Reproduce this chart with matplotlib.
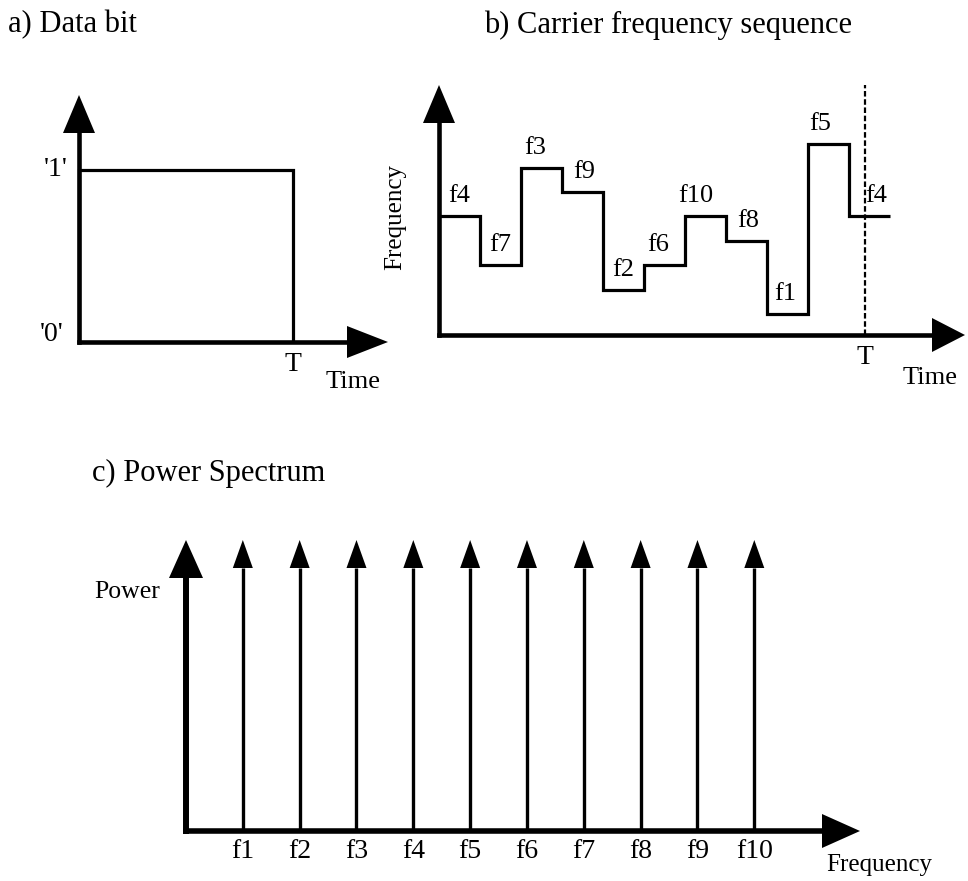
import matplotlib.pyplot as plt

# ---- data ----
# a) one data bit of length T
bit_edges = [0.0, 1.0]          # in units of T
bit_value = [1]                 # '1'
bit_ticks = ["'0'", "'1'"]

# b) carrier frequency sequence (one hop per time unit)
hop_labels = ['f4', 'f7', 'f3', 'f9', 'f2', 'f6', 'f10', 'f8', 'f1', 'f5', 'f4']
hop_levels = [4.76, 2.8, 6.68, 5.72, 1.8, 2.8, 4.76, 3.76, 0.84, 7.64, 4.76]
hop_edges = [0, 1, 2, 3, 4, 5, 6, 7, 8, 9, 10, 11]
T_hops = 10.39

# c) power spectrum, ten equal lines
spec_labels = ['f1', 'f2', 'f3', 'f4', 'f5', 'f6', 'f7', 'f8', 'f9', 'f10']
spec_freq = [1, 2, 3, 4, 5, 6, 7, 8, 9, 10]
spec_power = [1.0, 1.0, 1.0, 1.0, 1.0, 1.0, 1.0, 1.0, 1.0, 1.0]

# small pixel nudges for the hop labels, as in the drawing
hop_label_dx = [0, 0, -6, 2, 0, -6, -10, 2, -2, -8, 7]

W, H = 968, 881
plt.rcParams['font.family'] = ['Liberation Serif', 'DejaVu Serif']
fig = plt.figure(figsize=(W / 100, H / 100), dpi=100)
fig.patch.set_facecolor('white')


def place(l, t, r, b, xmax, ymax):
    ax = fig.add_axes([l / W, 1 - b / H, (r - l) / W, (b - t) / H])
    ax.set_xlim(0, xmax)
    ax.set_ylim(0, ymax)
    ax.axis('off')
    return ax


def px(ax):
    x0, x1 = ax.get_xlim()
    y0, y1 = ax.get_ylim()
    return ax.bbox.width / (x1 - x0), ax.bbox.height / (y1 - y0)


def axis_arrow(ax, horizontal, lw, half_w, head_l):
    sx, sy = px(ax)
    x1 = ax.get_xlim()[1]
    y1 = ax.get_ylim()[1]
    if horizontal:
        base = x1 - head_l / sx
        ax.plot([0, base], [0, 0], color='k', lw=lw, solid_capstyle='projecting', clip_on=False)
        hw = half_w / sy
        ax.fill([base, x1, base], [-hw, 0, hw], color='k', lw=0, clip_on=False)
    else:
        base = y1 - head_l / sy
        ax.plot([0, 0], [0, base], color='k', lw=lw, solid_capstyle='projecting', clip_on=False)
        hw = half_w / sx
        ax.fill([-hw, 0, hw], [base, y1, base], color='k', lw=0, clip_on=False)


def label(ax, s, x, y, dx, dy, size, **kw):
    ax.annotate(s, (x, y), xytext=(dx, dy), textcoords='offset pixels',
                fontsize=size, annotation_clip=False, **kw)


# ---- a) Data bit ----
ax_a = place(79, 95, 388, 342, 1.444, 1.436)
ax_a.stairs(bit_value, bit_edges, baseline=0, color='k', lw=2.3, clip_on=False)
axis_arrow(ax_a, False, 3.3, 16, 38)
axis_arrow(ax_a, True, 3.3, 16, 41)
label(ax_a, bit_ticks[1], 0, 1, -11, 0, 20, ha='right', va='center')
label(ax_a, bit_ticks[0], 0, 0, -15, 7, 20, ha='right', va='center')
label(ax_a, 'T', bit_edges[1], 0, 0, -23, 20, ha='center', va='center')
label(ax_a, 'Time', 1.28, 0, 0, -40, 19, ha='center', va='center')

# ---- b) Carrier frequency sequence ----
ax_b = place(439, 85, 965, 335, 12.83, 10)
ax_b.stairs(hop_levels, hop_edges, baseline=None, color='k', lw=2.3, clip_on=False)
ax_b.plot([T_hops, T_hops], [0, 10], color='k', lw=1.6, ls=(0, (2.5, 1.2)), clip_on=False)
axis_arrow(ax_b, False, 3.3, 16, 38)
axis_arrow(ax_b, True, 3.3, 17, 33)
for i, (name, lev) in enumerate(zip(hop_labels, hop_levels)):
    mid = (hop_edges[i] + hop_edges[i + 1]) / 2
    label(ax_b, name, mid, lev, hop_label_dx[i], 20, 19, ha='center', va='center')
label(ax_b, 'Frequency', 0, 4.72, -44, 0, 18, ha='center', va='center', rotation=90)
label(ax_b, 'T', T_hops, 0, 0, -22, 20, ha='center', va='center')
label(ax_b, 'Time', 11.98, 0, 0, -43, 19, ha='center', va='center')

# ---- c) Power Spectrum ----
ax_c = place(186, 540, 860, 831, 11.86, 1.0)
sx, sy = px(ax_c)
head = 28 / sy
ax_c.vlines(spec_freq, 0, [p - head for p in spec_power], color='k', lw=2.4, clip_on=False)
for f, p in zip(spec_freq, spec_power):
    hw = 10 / sx
    ax_c.fill([f - hw, f, f + hw], [p - head, p, p - head], color='k', lw=0, clip_on=False)
axis_arrow(ax_c, False, 4.3, 17, 38)
axis_arrow(ax_c, True, 4.0, 17, 38)
for f, name in zip(spec_freq, spec_labels):
    label(ax_c, name, f, 0, 0, -20, 20, ha='center', va='center')
label(ax_c, 'Power', 0, 0.82, -26, 0, 18.5, ha='right', va='center')
label(ax_c, 'Frequency', 12.2, 0, 0, -34, 18, ha='center', va='center')

# ---- panel titles ----
fig.text(8 / W, 1 - 25 / H, 'a) Data bit', fontsize=22, ha='left', va='center')
fig.text(484 / W, 1 - 25 / H, 'b) Carrier frequency sequence', fontsize=22, ha='left', va='center')
fig.text(92 / W, 1 - 473 / H, 'c) Power Spectrum', fontsize=22, ha='left', va='center')

fig.savefig('out.png', dpi=100, facecolor='white')
